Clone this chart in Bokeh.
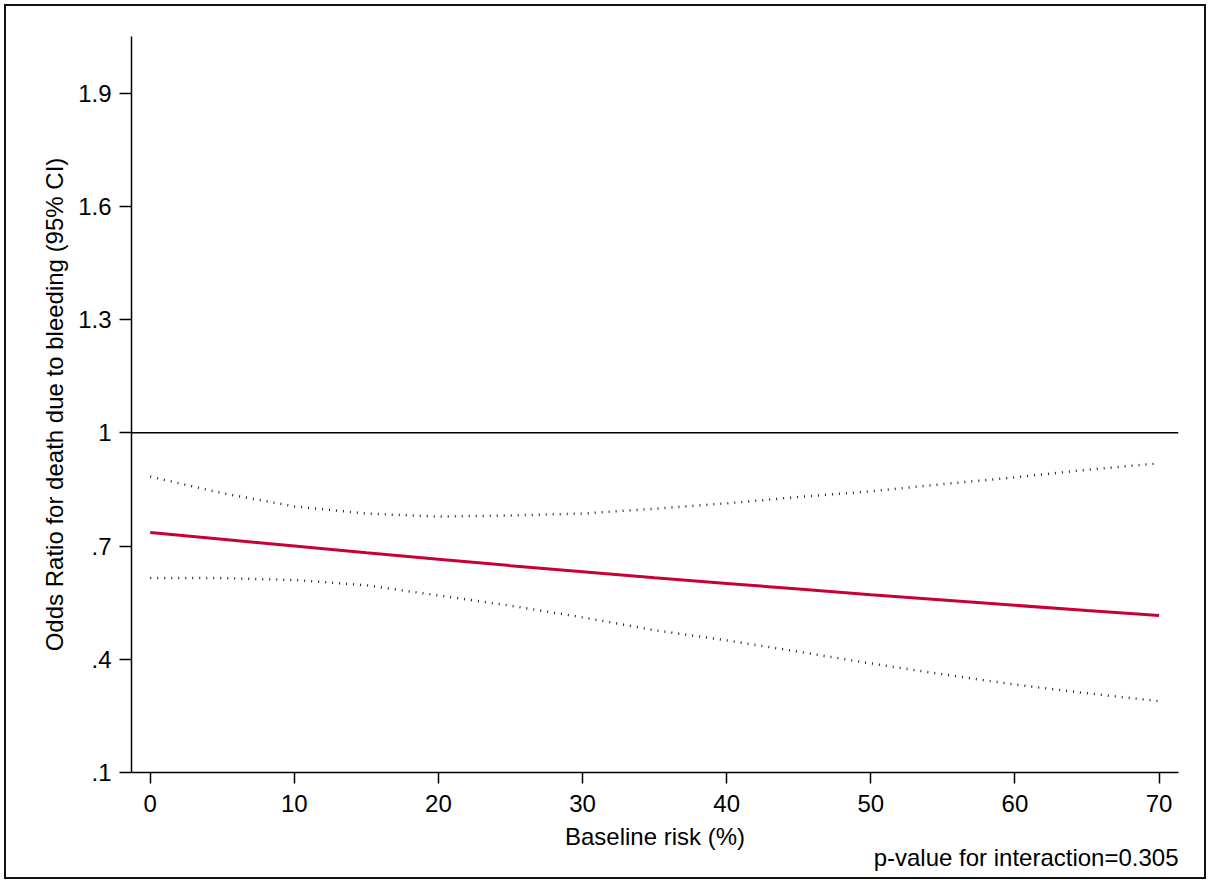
from bokeh.plotting import figure
from bokeh.models import Range1d, FixedTicker, Span, Title
from bokeh.embed import file_html
from bokeh.resources import INLINE

# Data
baseline_risk = [0, 5, 10, 15, 20, 25, 30, 35, 40, 45, 50, 55, 60, 65, 70]
odds_ratio = [0.736, 0.718, 0.700, 0.682, 0.665, 0.648, 0.632, 0.616, 0.601, 0.586, 0.571, 0.557, 0.543, 0.529, 0.516]
ci_upper = [0.884, 0.840, 0.805, 0.786, 0.778, 0.781, 0.786, 0.799, 0.813, 0.830, 0.845, 0.864, 0.882, 0.902, 0.919]
ci_lower = [0.615, 0.615, 0.610, 0.596, 0.569, 0.542, 0.511, 0.477, 0.450, 0.420, 0.389, 0.360, 0.333, 0.310, 0.289]

x_ticks = [0, 10, 20, 30, 40, 50, 60, 70]
y_ticks = [0.1, 0.4, 0.7, 1.0, 1.3, 1.6, 1.9]
y_tick_labels = [".1", ".4", ".7", "1", "1.3", "1.6", "1.9"]
reference_or = 1.0

x_title = "Baseline risk (%)"
y_title = "Odds Ratio for death due to bleeding (95% CI)"
note = "p-value for interaction=0.305"

FONT = "Liberation Sans"
FS = "24px"

p = figure(width=1198, height=871, output_backend="svg", toolbar_location=None,
           x_range=Range1d(-1.3, 71.35), y_range=Range1d(0.1, 2.05),
           min_border_left=125, min_border_right=26, min_border_top=30, min_border_bottom=105,
           background_fill_color="white", border_fill_color="white")
p.styles = {"margin-left": "6px", "margin-top": "6px",
            "outline": "2px solid #111111", "outline-offset": "0px"}
p.outline_line_color = None
p.xgrid.visible = False
p.ygrid.visible = False

p.xaxis.ticker = FixedTicker(ticks=x_ticks)
p.yaxis.ticker = FixedTicker(ticks=y_ticks)
p.yaxis.major_label_overrides = {t: l for t, l in zip(y_ticks, y_tick_labels)}

for ax in (p.xaxis[0], p.yaxis[0]):
    ax.axis_line_color = "black"
    ax.axis_line_width = 1.5
    ax.major_tick_line_color = "black"
    ax.major_tick_line_width = 1.5
    ax.major_tick_in = 0
    ax.minor_tick_line_color = None
    ax.major_label_text_font = FONT
    ax.major_label_text_font_size = FS
    ax.major_label_text_color = "black"
    ax.axis_label_text_font = FONT
    ax.axis_label_text_font_size = FS
    ax.axis_label_text_font_style = "normal"
    ax.axis_label_text_color = "black"

p.xaxis.major_tick_out = 11
p.yaxis.major_tick_out = 12
p.xaxis.major_label_standoff = 11
p.yaxis.major_label_standoff = 8
p.xaxis.axis_label = x_title
p.yaxis.axis_label = y_title
p.xaxis.axis_label_standoff = 8
p.yaxis.axis_label_standoff = 7

p.add_layout(Span(location=reference_or, dimension="width", line_color="black", line_width=1.5))

p.line(baseline_risk, ci_upper, line_color="#222222", line_width=2.5, line_dash="1 6")
p.line(baseline_risk, ci_lower, line_color="#222222", line_width=2.5, line_dash="1 6")
p.line(baseline_risk, odds_ratio, line_color="#C80036", line_width=3)

try:
    note_title = Title(text=note, align="right", text_font=FONT, text_font_size=FS,
                       text_font_style="normal", text_color="black", standoff=-36, offset=0)
except ValueError:
    note_title = Title(text=note, align="right", text_font=FONT, text_font_size=FS,
                       text_font_style="normal", text_color="black", standoff=0, offset=0)
p.add_layout(note_title, "below")

open("out.html", "w").write(file_html(p, INLINE))
